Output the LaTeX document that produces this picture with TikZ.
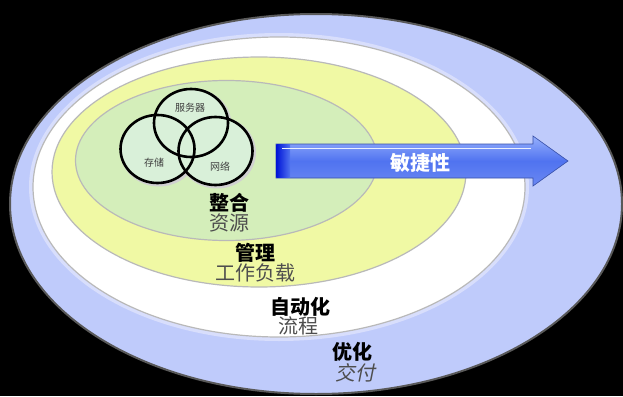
\documentclass[tikz,border=0pt]{standalone}
\usepackage{fontspec}
\newfontfamily\cjk{Noto Sans CJK SC}
\newfontfamily\cjkslant[FakeSlant=0.2]{Noto Sans CJK SC}
\usetikzlibrary{positioning}
\definecolor{ringblue}{RGB}{191,203,251}
\definecolor{ringyellow}{RGB}{240,249,164}
\definecolor{ringgreen}{RGB}{212,238,186}
\definecolor{hubgreen}{RGB}{217,240,217}
\definecolor{subgray}{RGB}{78,78,78}
\definecolor{arrowdark}{RGB}{0,20,215}
\definecolor{arrowmid}{RGB}{80,115,240}
\definecolor{arrowlight}{RGB}{150,176,252}
\tikzset{font=\cjk}
\tikzset{ring/.style={draw=gray!55,line width=1.2pt}}
\tikzset{hub/.style={draw=black,line width=2.6pt}}
\tikzset{title/.style={inner sep=0pt,font=\cjk\bfseries\fontsize{20}{24}\selectfont}}
\tikzset{subtitle/.style={inner sep=0pt,text=subgray,font=\cjk\fontsize{20}{24}\selectfont}}
\tikzset{hublabel/.style={inner sep=0pt,text=black!75,font=\cjk\fontsize{10}{12}\selectfont}}

\begin{document}
\begin{tikzpicture}[x=1pt,y=-1pt]
  \useasboundingbox (0,0) rectangle (623,396);
  \fill[black] (0,0) rectangle (623,396);
  % rings, outside in
  \draw[draw=black!65,line width=2pt,fill=ringblue] (316,204) ellipse [x radius=306,y radius=190];
  \draw[draw={rgb,255:red,216;green,222;blue,252},line width=4pt] (279,187) ellipse [x radius=248,y radius=152];
  \draw[ring,fill=white] (279,187) ellipse [x radius=246,y radius=150];
  \draw[ring,fill=ringyellow] (259,172) ellipse [x radius=207,y radius=115];
  \draw[ring,fill=ringgreen] (226.5,160.5) ellipse [x radius=151,y radius=80];
  % three hubs
  \foreach \cx/\cy in {191/123,157.5/149,215.5/151}
    \draw[black!18,line width=4pt] (\cx+1.5,\cy+1.5) ellipse [x radius=37,y radius=34];
  \foreach \cx/\cy in {191/123,157.5/149,215.5/151}
    \fill[hubgreen] (\cx,\cy) ellipse [x radius=37,y radius=34];
  \foreach \cx/\cy in {191/123,157.5/149,215.5/151}
    \draw[hub] (\cx,\cy) ellipse [x radius=37,y radius=34];
  \node[hublabel] (server) at (190,108) {服务器};
  \node[hublabel] (storage) at (154,163) {存储};
  \node[hublabel] (network) at (220,167) {网络};
  % agility arrow
  \shade[top color=arrowlight,bottom color=arrowmid!85!white,middle color=arrowmid,
    draw=arrowmid!70!black,line width=.6pt]
    (276,144) -- (533,144) -- (533,136) -- (568,161) -- (533,186) -- (533,178)
    -- (276,178) -- cycle;
  \shade[left color=arrowdark,right color=arrowmid] (276.3,144.3) rectangle (290,177.7);
  \draw[white!80!arrowlight,line width=1pt] (282,148) -- (531,148);
  \node[inner sep=0pt,text=white,font=\cjk\bfseries\fontsize{20}{24}\selectfont]
    (agility) at (420,163) {敏捷性};
  % labels
  \node[title] (integrate) at (229,203) {整合};
  \node[subtitle] (resource) at (229,223) {资源};
  \node[title] (manage) at (255,253) {管理};
  \node[subtitle] (workload) at (255,273) {工作负载};
  \node[title] (automate) at (300,307) {自动化};
  \node[subtitle] (process) at (298,326) {流程};
  \node[title] (optimize) at (352,352) {优化};
  \node[subtitle,font=\cjkslant\fontsize{20}{24}\selectfont] (deliver) at (355,373) {交付};
\end{tikzpicture}
\end{document}
